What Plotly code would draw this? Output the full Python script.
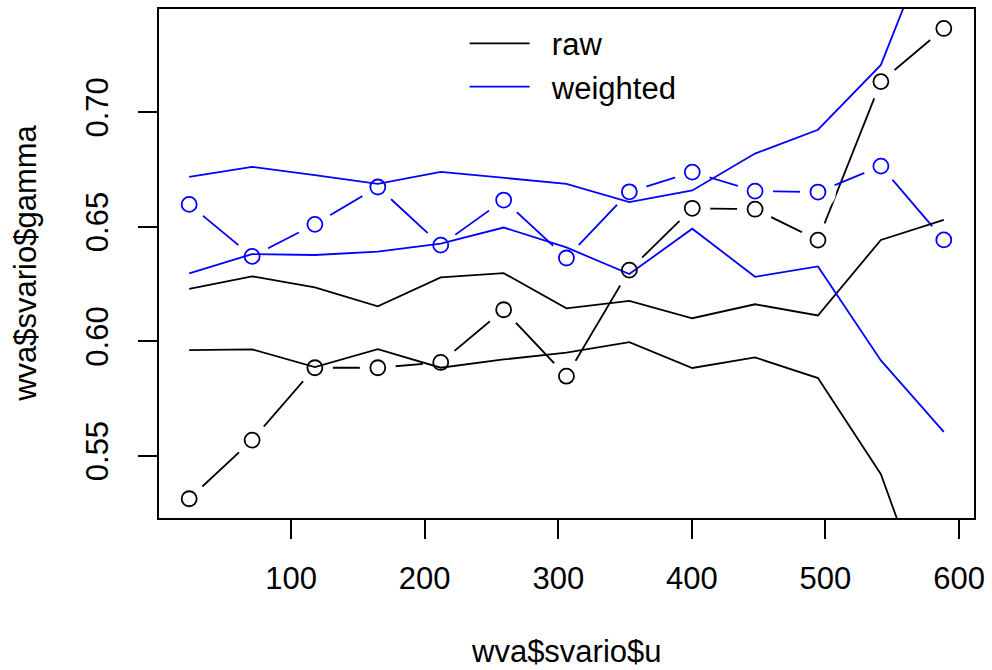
import plotly.graph_objects as go

u = [23.7, 70.8, 117.8, 164.9, 212.0, 259.1, 306.1, 353.2, 400.3, 447.3, 494.4, 541.5, 588.6]
raw_gamma = [0.5312, 0.5568, 0.5884, 0.5884, 0.5907, 0.6137, 0.5847, 0.6310, 0.6580, 0.6576, 0.6441, 0.7133, 0.7365]
wtd_gamma = [0.6597, 0.6370, 0.6510, 0.6673, 0.6419, 0.6616, 0.6363, 0.6652, 0.6738, 0.6655, 0.6651, 0.6764, 0.6442]
raw_upper = [0.6228, 0.6283, 0.6235, 0.6152, 0.6278, 0.6297, 0.6143, 0.6176, 0.6100, 0.6161, 0.6112, 0.6442, 0.6529]
raw_lower = [0.5961, 0.5964, 0.5887, 0.5965, 0.5884, 0.5920, 0.5950, 0.5996, 0.5883, 0.5929, 0.5839, 0.5419, 0.4660]
wtd_upper = [0.6717, 0.6761, 0.6725, 0.6687, 0.6739, 0.6713, 0.6687, 0.6607, 0.6658, 0.6819, 0.6923, 0.7206, 0.7900]
wtd_lower = [0.6296, 0.6380, 0.6376, 0.6391, 0.6426, 0.6496, 0.6409, 0.6293, 0.6491, 0.6281, 0.6326, 0.5916, 0.5604]

x_ticks = [100, 200, 300, 400, 500, 600]
y_ticks = [0.55, 0.60, 0.65, 0.70]
y_ticklabels = ["0.55", "0.60", "0.65", "0.70"]
legend_names = ["raw", "weighted"]

BLACK = "#000000"
BLUE = "#0000FF"
FONT = "Liberation Sans, Arial, sans-serif"
LW = 1.8
PAD = "\u00a0\u00a0"

fig = go.Figure()

# series connecting lines (type="b")
for y, c in [(raw_gamma, BLACK), (wtd_gamma, BLUE)]:
    fig.add_trace(go.Scatter(x=u, y=y, mode="lines", line=dict(color=c, width=LW),
                             showlegend=False, hoverinfo="skip"))
# white halos to create the gaps around points
for y in [raw_gamma, wtd_gamma]:
    fig.add_trace(go.Scatter(x=u, y=y, mode="markers",
                             marker=dict(size=36, color="white", line=dict(width=0)),
                             showlegend=False, hoverinfo="skip"))
# envelopes
fig.add_trace(go.Scatter(x=u, y=raw_upper, mode="lines", line=dict(color=BLACK, width=LW),
                         name=PAD + legend_names[0], legendgroup="raw"))
fig.add_trace(go.Scatter(x=u, y=raw_lower, mode="lines", line=dict(color=BLACK, width=LW),
                         showlegend=False, legendgroup="raw"))
fig.add_trace(go.Scatter(x=u, y=wtd_upper, mode="lines", line=dict(color=BLUE, width=LW),
                         name=PAD + legend_names[1], legendgroup="weighted"))
fig.add_trace(go.Scatter(x=u, y=wtd_lower, mode="lines", line=dict(color=BLUE, width=LW),
                         showlegend=False, legendgroup="weighted"))
# open circles
for y, c in [(raw_gamma, BLACK), (wtd_gamma, BLUE)]:
    fig.add_trace(go.Scatter(x=u, y=y, mode="markers",
                             marker=dict(symbol="circle-open", size=15, color=c, line=dict(width=LW, color=c)),
                             showlegend=False))

fig.update_layout(
    width=992, height=670,
    margin=dict(l=159, r=15, t=7, b=152),
    paper_bgcolor="white", plot_bgcolor="white",
    font=dict(family=FONT, size=31, color="black"),
    showlegend=True,
    legend=dict(x=0.375, y=0.985, xanchor="left", yanchor="top", bgcolor="rgba(0,0,0,0)",
                font=dict(size=31), tracegroupgap=0, itemwidth=60),
    annotations=[
        dict(text="wva$svario$u", xref="paper", yref="paper", x=0.5, y=-0.263,
             xanchor="center", yanchor="middle", showarrow=False, font=dict(size=31)),
        dict(text="wva$svario$gamma", xref="paper", yref="paper", x=-0.164, y=0.5,
             xanchor="center", yanchor="middle", textangle=-90, showarrow=False, font=dict(size=31)),
    ],
)
fig.update_xaxes(range=[1.1, 611.2], tickvals=x_ticks, ticks="outside", ticklen=19, tickwidth=LW,
                 tickcolor="black", showline=True, linecolor="black", linewidth=LW, mirror=True,
                 showgrid=False, zeroline=False, ticklabelstandoff=13)
fig.update_yaxes(range=[0.5228, 0.745], tickvals=y_ticks, ticktext=y_ticklabels, ticks="outside",
                 ticklen=19, tickwidth=LW, tickcolor="black", showline=True, linecolor="black",
                 linewidth=LW, mirror=True, showgrid=False, zeroline=False, tickangle=-90,
                 ticklabelstandoff=18)

fig.write_html("out.html", config={"displayModeBar": False},
               post_script="document.body.style.margin='0px';")
